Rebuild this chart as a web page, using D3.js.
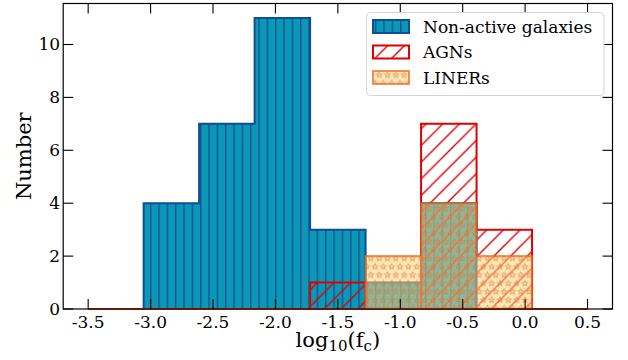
<!DOCTYPE html>
<html><head><meta charset="utf-8">
<script src="https://d3js.org/d3.v7.min.js"></script>
<style>body{margin:0;background:#fff}text{font-family:"DejaVu Serif",serif;fill:#000}</style>
</head><body><svg id="c" width="628" height="360"></svg>
<script>
const binEdges=[-3.5,-3.0556,-2.6111,-2.1667,-1.7222,-1.2778,-0.8333,-0.3889,0.0556,0.5];
const nonActive=[0,4,7,11,3,1,4,0,0];
const agn=[0,0,0,0,1,0,7,3,0];
const liners=[0,0,0,0,0,2,4,2,0];
const seriesNames=["Non-active galaxies","AGNs","LINERs"];
const xTicks=[-3.5,-3.0,-2.5,-2.0,-1.5,-1.0,-0.5,0.0,0.5];
const yTicks=[0,2,4,6,8,10];

const L=63.2,R=612.5,T=3.5,B=309;
const x=d3.scaleLinear().domain([-3.7,0.7]).range([L,R]);
const y=d3.scaleLinear().domain([0,11.55]).range([B,T]);
const svg=d3.select("#c");
const defs=svg.append("defs");
const fmt=d3.formatLocale({decimal:".",thousands:",",grouping:[3],currency:["$",""],minus:"-"}).format(".1f");

// hatch patterns
const hv=defs.append("pattern").attr("id","hv").attr("patternUnits","userSpaceOnUse").attr("width",100/12).attr("height",10);
hv.append("line").attr("x1",0.7).attr("x2",0.7).attr("y1",0).attr("y2",10).attr("stroke","#1a4f95").attr("stroke-width",1.4);
const hd=defs.append("pattern").attr("id","hd").attr("patternUnits","userSpaceOnUse").attr("width",100/6).attr("height",100/6);
const s6=100/6;
[[0,s6,s6,0],[-s6/2,s6/2,s6/2,-s6/2],[s6/2,s6*1.5,s6*1.5,s6/2]].forEach(p=>hd.append("line").attr("x1",p[0]).attr("y1",p[1]).attr("x2",p[2]).attr("y2",p[3]).attr("stroke","#e00000").attr("stroke-width",1.4));
const s12=100/12;
const hs=defs.append("pattern").attr("id","hs").attr("patternUnits","userSpaceOnUse").attr("width",s12).attr("height",2*s12);
function starPts(cx,cy,r){const pts=[];for(let i=0;i<10;i++){const a=-Math.PI/2+i*Math.PI/5;const rr=i%2?r*0.45:r;pts.push([cx+rr*Math.cos(a),cy+rr*Math.sin(a)]);}return pts.map(p=>p.join(",")).join(" ");}
[[0,0],[s12,0],[s12/2,s12],[0,2*s12],[s12,2*s12]].forEach(p=>hs.append("polygon").attr("points",starPts(p[0],p[1],2.9)).attr("fill","none").attr("stroke","#dc7a22").attr("stroke-width",1));

function stepPath(counts){
  const pts=[[binEdges[0],0]];
  counts.forEach((c,i)=>{pts.push([binEdges[i],c]);pts.push([binEdges[i+1],c]);});
  pts.push([binEdges[binEdges.length-1],0]);
  return d3.line().x(d=>x(d[0])).y(d=>y(d[1]))(pts)+"Z";
}
const styles=[
  {fill:"#0998b6",fo:1,hatch:"url(#hv)",ho:1,stroke:"#0f4d95",so:1},
  {fill:"none",fo:1,hatch:"url(#hd)",ho:1,stroke:"#e00000",so:1},
  {fill:"rgb(251,209,129)",fo:0.55,hatch:"url(#hs)",ho:0.6,stroke:"#e8661a",so:0.7}
];
function drawPatch(g,d,st){
  if(st.fill!=="none") g.append("path").attr("d",d).attr("fill",st.fill).attr("fill-opacity",st.fo);
  g.append("path").attr("d",d).attr("fill",st.hatch).attr("opacity",st.ho);
  g.append("path").attr("d",d).attr("fill","none").attr("stroke",st.stroke).attr("stroke-opacity",st.so).attr("stroke-width",2).attr("stroke-linejoin","miter");
}
[nonActive,agn,liners].forEach((s,i)=>drawPatch(svg.append("g"),stepPath(s),styles[i]));

// frame & ticks
svg.append("rect").attr("x",L).attr("y",T).attr("width",R-L).attr("height",B-T).attr("fill","none").attr("stroke","#000").attr("stroke-width",1.2);
const tk=svg.append("g").attr("stroke","#000").attr("stroke-width",1.1);
xTicks.forEach(v=>{tk.append("line").attr("x1",x(v)).attr("x2",x(v)).attr("y1",B).attr("y2",B-10);tk.append("line").attr("x1",x(v)).attr("x2",x(v)).attr("y1",T).attr("y2",T+10);});
yTicks.forEach(v=>{tk.append("line").attr("x1",L).attr("x2",L+10).attr("y1",y(v)).attr("y2",y(v));tk.append("line").attr("x1",R).attr("x2",R-10).attr("y1",y(v)).attr("y2",y(v));});
xTicks.forEach(v=>svg.append("text").attr("x",x(v)).attr("y",B+19).attr("text-anchor","middle").attr("font-size",17).text(fmt(v)));
yTicks.forEach(v=>svg.append("text").attr("x",L-3).attr("y",y(v)+6).attr("text-anchor","end").attr("font-size",17).text(v));
svg.append("text").attr("transform",`translate(31,${(T+B)/2}) rotate(-90)`).attr("text-anchor","middle").attr("font-size",21).text("Number");
const xl=svg.append("text").attr("x",(L+R)/2).attr("y",347).attr("text-anchor","middle").attr("font-size",21);
xl.append("tspan").text("log");
xl.append("tspan").attr("font-size",15).attr("dy",4).text("10");
xl.append("tspan").attr("dy",-4).text("(f");
xl.append("tspan").attr("font-size",15).attr("dy",4).text("c");
xl.append("tspan").attr("dy",-4).text(")");

// legend
const lg=svg.append("g");
lg.append("rect").attr("x",366.5).attr("y",12.5).attr("width",237.5).attr("height",83).attr("rx",4).attr("fill","#fff").attr("fill-opacity",0.8).attr("stroke","#d4d4d4");
seriesNames.forEach((n,i)=>{
  const yy=20+i*25.5;
  const d=`M373,${yy}H409V${yy+13}H373Z`;
  drawPatch(lg.append("g"),d,styles[i]);
  lg.append("text").attr("x",423).attr("y",yy+12.5).attr("font-size",17).text(n);
});
</script></body></html>
